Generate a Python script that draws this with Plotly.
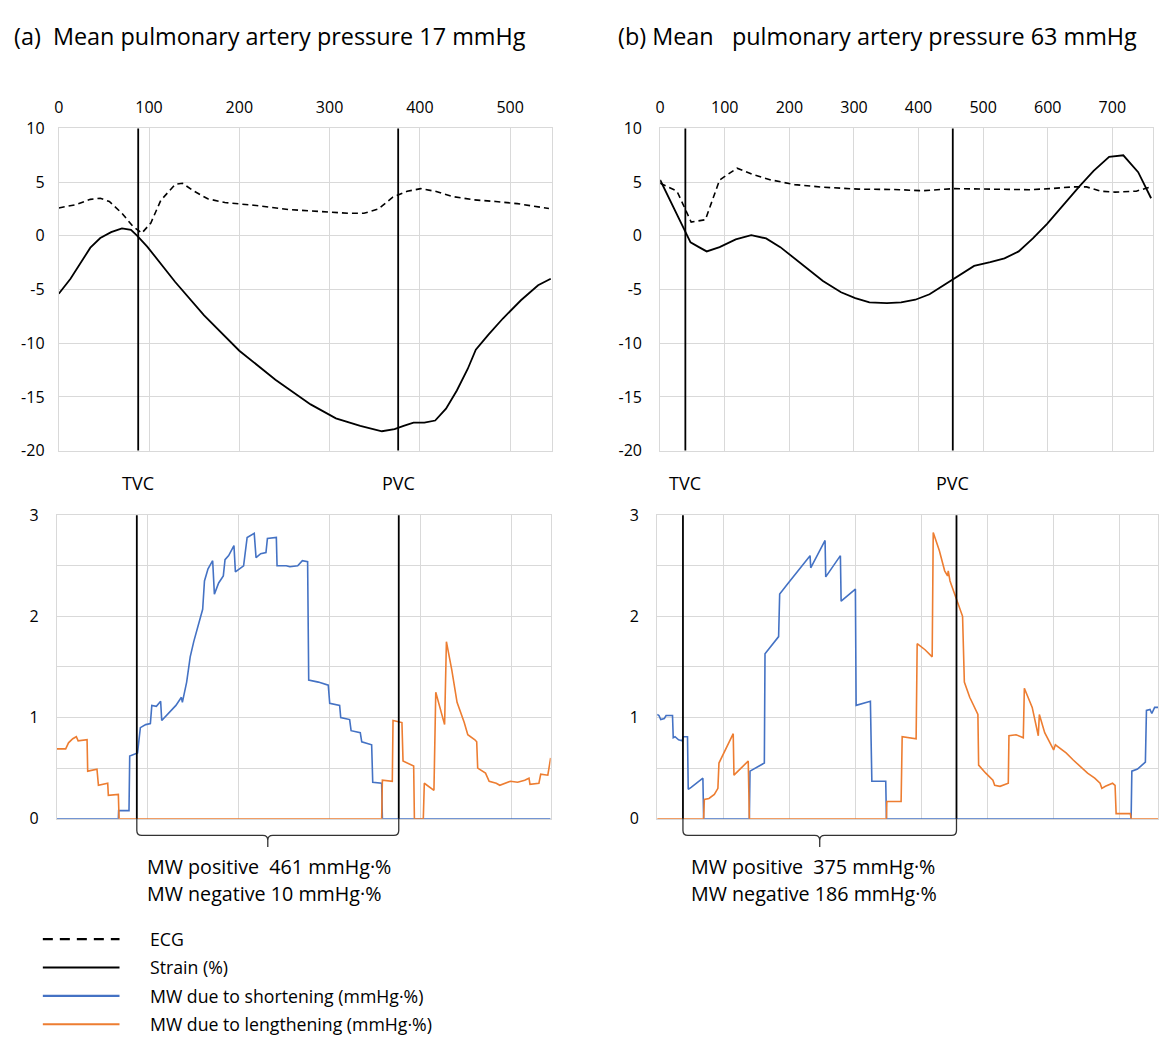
import plotly.graph_objects as go

# ---------------- data ----------------
# (a) mean PAP 17 mmHg
strain_a_x = [0, 13, 35, 46, 58, 70, 80, 87, 98, 113, 129, 161, 200, 240, 279, 307, 334, 358, 372, 382,
              393, 405, 417, 429, 441, 453, 462, 476, 492, 512, 531, 545]
strain_a_y = [-5.4, -4.0, -1.1, -0.2, 0.35, 0.7, 0.55, 0.0, -1.0, -2.6, -4.3, -7.4, -10.7, -13.4, -15.7, -17.0,
              -17.7, -18.2, -18.0, -17.7, -17.4, -17.4, -17.2, -16.1, -14.4, -12.4, -10.6, -9.2, -7.7, -6.0, -4.6, -4.0]
ecg_a_x = [0, 19, 35, 46, 56, 70, 82, 92, 102, 113, 129, 137, 149, 165, 184, 216, 255, 295, 322, 338,
           354, 370, 386, 401, 417, 437, 460, 484, 508, 543]
ecg_a_y = [2.6, 2.9, 3.4, 3.5, 3.2, 2.1, 0.9, 0.25, 1.2, 3.3, 4.8, 4.9, 4.2, 3.45, 3.1, 2.85, 2.45, 2.2, 2.1, 2.1,
           2.5, 3.6, 4.15, 4.4, 4.15, 3.65, 3.35, 3.2, 3.0, 2.55]
short_a_x = [0, 67.7, 68, 79.4, 80.2, 88.8, 91.9, 97.8, 102.9, 104.5, 109.5, 114.2, 115.4, 123.2, 131, 137, 138.1,
             142.8, 146.7, 150.6, 156.5, 160.4, 162.4, 166.3, 171.4, 173.3, 178, 183.1, 185, 189, 194.8, 196.4,
             205.4, 209.3, 217.1, 219.1, 224.2, 230, 231.6, 241.4, 242.2, 252.3, 256.3, 264.9, 270, 275.8, 277,
             287.6, 298.5, 300.1, 311, 312.2, 322, 323.6, 333.7, 335.3, 346.2, 347.4, 357.2, 358, 543]
short_a_y = [0, 0, 0.08, 0.08, 0.62, 0.65, 0.9, 0.93, 0.94, 1.12, 1.11, 1.16, 0.97, 1.05, 1.12, 1.2, 1.15,
             1.35, 1.6, 1.75, 1.95, 2.07, 2.35, 2.47, 2.55, 2.22, 2.33, 2.4, 2.56, 2.6, 2.7, 2.44,
             2.5, 2.78, 2.82, 2.58, 2.62, 2.63, 2.77, 2.78, 2.5, 2.5, 2.49, 2.5, 2.55, 2.54, 1.37,
             1.35, 1.32, 1.14, 1.12, 1.0, 0.98, 0.87, 0.85, 0.76, 0.73, 0.36, 0.35, 0, 0]
length_a_x = [0, 9.8, 12.9, 17.6, 21.5, 23.5, 33.3, 34, 44.2, 45.8, 56, 56.7, 67.7, 68.5, 357.2, 358, 368.9,
              369.7, 379.5, 380.7, 392.4, 393.2, 403, 404.1, 414.7, 416.7, 426.4, 428.4, 434.3, 440.1, 448,
              451.9, 459.7, 461.7, 462.8, 471.4, 475.4, 483.2, 487.1, 493, 498.8, 506.7, 514.5, 519.2, 520.3,
              530.1, 532.1, 539.9, 543]
length_a_y = [0.69, 0.69, 0.75, 0.79, 0.81, 0.77, 0.78, 0.47, 0.49, 0.33, 0.35, 0.23, 0.24, 0, 0, 0.38, 0.37,
              0.97, 0.95, 0.57, 0.52, 0, 0, 0.35, 0.28, 1.25, 0.93, 1.75, 1.47, 1.15, 0.95,
              0.83, 0.78, 0.76, 0.5, 0.45, 0.37, 0.35, 0.33, 0.35, 0.37, 0.36, 0.38, 0.4, 0.34,
              0.35, 0.44, 0.43, 0.6]
events_a = [88, 376]

# (b) mean PAP 63 mmHg
strain_b_x = [0, 13, 26, 38, 47, 60, 72, 92, 117, 141, 164, 186, 219, 252, 280, 302, 324, 351, 373, 395,
              417, 439, 454, 467, 486, 511, 533, 555, 577, 599, 627, 649, 671, 695, 717, 740, 760]
strain_b_y = [5.2, 3.6, 1.95, 0.5, -0.6, -1.05, -1.45, -1.05, -0.33, 0.06, -0.24, -1.05, -2.67, -4.2, -5.26,
              -5.8, -6.2, -6.26, -6.2, -5.95, -5.44, -4.6, -3.95, -3.5, -2.8, -2.45, -2.1, -1.45, -0.24, 1.12,
              3.1, 4.6, 6.05, 7.35, 7.5, 5.93, 3.5]
ecg_b_x = [0, 26, 40, 48, 70, 92, 119, 142, 170, 208, 252, 307, 362, 406, 454, 516, 572, 605, 638, 660,
           682, 704, 737, 762]
ecg_b_y = [4.9, 4.16, 2.34, 1.28, 1.5, 5.2, 6.3, 5.74, 5.23, 4.77, 4.53, 4.35, 4.32, 4.2, 4.4, 4.38, 4.3,
           4.4, 4.56, 4.56, 4.16, 4.07, 4.16, 4.6]
short_b_x = [0, 2.7, 5.4, 10.8, 13.5, 23.2, 24.3, 27, 32.4, 37.8, 39.5, 45.9, 47, 51.4, 69.2, 70.3, 139.5,
             140.5, 162.2, 163.2, 183.8, 185.4, 197.3, 210.8, 231.4, 232.4, 254.1, 255.1, 277.3, 278.4, 300,
             301.1, 322.7, 324.9, 345.9, 347, 717.3, 718.4, 727, 738.9, 740.5, 745.9, 748.6, 752.9, 758]
short_b_y = [1.03, 1.02, 0.98, 0.99, 1.02, 1.02, 0.8, 0.81, 0.78, 0.77, 0.81, 0.81, 0.29, 0.31, 0.4, 0, 0,
             0.47, 0.55, 1.63, 1.8, 2.22, 2.32, 2.43, 2.6, 2.48, 2.75, 2.39, 2.6, 2.15, 2.27,
             1.12, 1.16, 0.37, 0.37, 0, 0, 0.47, 0.49, 0.56, 1.07, 1.08, 1.04, 1.1, 1.1]
length_b_x = [0, 70.3, 71.4, 78.4, 86.5, 91.9, 93.5, 102.7, 110.8, 115.1, 116.2, 127, 137.8, 139.5, 347,
              347.6, 369.2, 370.8, 391.9, 393.5, 405.4, 416.2, 417.8, 427, 435.1, 439.5, 440.5, 443.2, 452.4,
              462.2, 464.9, 473, 485.4, 486.5, 497.3, 508.1, 510.8, 518.9, 531.4, 532.4, 543.2, 554.1, 555.7,
              567.6, 576.8, 578.4, 586.5, 600, 602.7, 613.5, 618.9, 629.7, 640.5, 651.4, 662.2, 670.3, 673,
              678.4, 689.2, 693, 694.6, 716.2, 717.3, 758]
length_b_y = [0, 0, 0.19, 0.2, 0.24, 0.3, 0.55, 0.67, 0.78, 0.84, 0.43, 0.5, 0.57, 0, 0,
              0.17, 0.17, 0.81, 0.79, 1.73, 1.67, 1.6, 2.83, 2.65, 2.45, 2.4, 2.45, 2.35, 2.18,
              2.0, 1.35, 1.2, 1.03, 0.53, 0.45, 0.38, 0.33, 0.32, 0.35, 0.82, 0.83, 0.8, 1.29,
              1.1, 0.82, 1.03, 0.85, 0.68, 0.73, 0.68, 0.65, 0.58, 0.52, 0.45, 0.4, 0.35, 0.3,
              0.32, 0.35, 0.33, 0.05, 0.05, 0, 0]
events_b = [39, 453]

event_labels = ["TVC", "PVC"]
titles = ["(a)\u00a0\u00a0Mean pulmonary artery pressure 17 mmHg",
          "(b) Mean\u00a0\u00a0\u00a0pulmonary artery pressure 63 mmHg"]
mw_text_a = ["MW positive\u00a0\u00a0461 mmHg\u00b7%", "MW negative 10 mmHg\u00b7%"]
mw_text_b = ["MW positive\u00a0\u00a0375 mmHg\u00b7%", "MW negative 186 mmHg\u00b7%"]
legend_names = ["ECG", "Strain (%)", "MW due to shortening (mmHg\u00b7%)", "MW due to lengthening (mmHg\u00b7%)"]

# ---------------- styling ----------------
W, H = 1161, 1048
FONT = "Open Sans"
BLUE = "#4472C4"
ORANGE = "#ED7D31"
GRID = "#d9d9d9"
TICK_SIZE = 16


def X(px):
    return px / W


def Y(py):
    return 1 - py / H


fig = go.Figure()

# panel geometry (pixels)
panels = {
    "1": dict(x=(54, 549), y=(120, 449), xr=(0, 546)),
    "2": dict(x=(658, 1153), y=(120, 449), xr=(0, 763)),
    "3": dict(x=(52, 548), y=(515, 825), xr=(0, 543)),
    "4": dict(x=(655, 1158), y=(515, 825), xr=(0, 758)),
}


def add(x, y, axis, color, dash=None, width=1.8):
    xa = "x" if axis == "1" else "x" + axis
    ya = "y" if axis == "1" else "y" + axis
    fig.add_trace(go.Scatter(x=x, y=y, mode="lines", xaxis=xa, yaxis=ya, showlegend=False,
                             line=dict(color=color, width=width, dash=dash), hoverinfo="skip"))


add(ecg_a_x, ecg_a_y, "1", "black", dash="6px,4px", width=1.6)
add(strain_a_x, strain_a_y, "1", "black")
add(ecg_b_x, ecg_b_y, "2", "black", dash="6px,4px", width=1.6)
add(strain_b_x, strain_b_y, "2", "black")
add(short_a_x, short_a_y, "3", BLUE, width=1.6)
add(length_a_x, length_a_y, "3", ORANGE, width=1.6)
add(short_b_x, short_b_y, "4", BLUE, width=1.6)
add(length_b_x, length_b_y, "4", ORANGE, width=1.6)

layout = dict(
    width=W, height=H, margin=dict(l=0, r=0, t=0, b=0),
    paper_bgcolor="white", plot_bgcolor="white",
    font=dict(family=FONT, color="black", size=TICK_SIZE),
    showlegend=False,
)

for k, p in panels.items():
    xname = "xaxis" if k == "1" else "xaxis" + k
    yname = "yaxis" if k == "1" else "yaxis" + k
    anchor_y = "y" if k == "1" else "y" + k
    anchor_x = "x" if k == "1" else "x" + k
    top = k in ("1", "2")
    layout[xname] = dict(
        domain=[X(p["x"][0]), X(p["x"][1])], range=list(p["xr"]), anchor=anchor_y,
        side="top" if top else "bottom", tickmode="linear", tick0=0, dtick=100,
        showticklabels=top, gridcolor=GRID, gridwidth=1, zeroline=False,
        showline=True, linecolor=GRID, linewidth=1, mirror=True,
        ticks="outside" if top else "", ticklen=8, tickcolor="rgba(0,0,0,0)",
        tickfont=dict(size=TICK_SIZE, family=FONT), fixedrange=True,
    )
    if top:
        ydict = dict(range=[-20, 10], tickvals=[10, 5, 0, -5, -10, -15, -20],
                     ticktext=["10", "5", "0", "-5", "-10", "-15", "-20"])
    else:
        ydict = dict(range=[0, 3], tickvals=[0, 0.5, 1, 1.5, 2, 2.5, 3],
                     ticktext=["0", "", "1", "", "2", "", "3"])
    layout[yname] = dict(
        domain=[Y(p["y"][1]), Y(p["y"][0])], anchor=anchor_x,
        gridcolor=GRID, gridwidth=1, zeroline=False,
        showline=True, linecolor=GRID, linewidth=1, mirror=True,
        ticks="outside", ticklen=10 if k == "1" else 14, tickcolor="rgba(0,0,0,0)",
        tickfont=dict(size=TICK_SIZE, family=FONT), fixedrange=True, **ydict,
    )

fig.update_layout(**layout)

shapes = []
annotations = []

for events, xt, xb in ((events_a, "x", "x3"), (events_b, "x2", "x4")):
    ytop = "y domain" if xt == "x" else "y2 domain"
    ybot = "y3 domain" if xb == "x3" else "y4 domain"
    for ev, lab in zip(events, event_labels):
        shapes.append(dict(type="line", xref=xt, yref=ytop, x0=ev, x1=ev, y0=0, y1=1,
                           line=dict(color="black", width=1.8), layer="above"))
        shapes.append(dict(type="line", xref=xb, yref=ybot, x0=ev, x1=ev, y0=0, y1=1,
                           line=dict(color="black", width=1.8), layer="above"))
        annotations.append(dict(text=lab, xref=xt, yref="paper", x=ev, y=Y(482), showarrow=False,
                                xanchor="center", yanchor="middle", font=dict(size=18, family=FONT)))

    # curly brace below bottom panel between TVC and PVC
    t, pv = events
    mid = (t + pv) / 2
    pk = "3" if xb == "x3" else "4"
    pxu = (panels[pk]["x"][1] - panels[pk]["x"][0]) / panels[pk]["xr"][1]
    dx = 5 / pxu
    y0, yc, yh, ym, ytip = Y(825), Y(837), Y(842), Y(847), Y(854)
    path = (f"M {t},{y0} L {t},{yc} Q {t},{yh} {t + dx},{yh} L {mid - dx},{yh} Q {mid},{yh} {mid},{ym} "
            f"L {mid},{ytip} M {mid},{ym} Q {mid},{yh} {mid + dx},{yh} L {pv - dx},{yh} "
            f"Q {pv},{yh} {pv},{yc} L {pv},{y0}")
    shapes.append(dict(type="path", xref=xb, yref="paper", path=path,
                       line=dict(color="#333333", width=1.3)))

# titles
annotations.append(dict(text=titles[0], xref="paper", yref="paper", x=X(7), y=Y(26), showarrow=False,
                        xanchor="left", yanchor="middle", font=dict(size=23.4, family=FONT)))
annotations.append(dict(text=titles[1], xref="paper", yref="paper", x=X(614), y=Y(26), showarrow=False,
                        xanchor="left", yanchor="middle", font=dict(size=23.4, family=FONT)))

# MW summary text
for lines, xp in ((mw_text_a, 141), (mw_text_b, 687)):
    for i, line in enumerate(lines):
        annotations.append(dict(text=line, xref="paper", yref="paper", x=X(xp), y=Y(874 + 27 * i),
                                showarrow=False, xanchor="left", yanchor="middle",
                                font=dict(size=19.7, family=FONT)))

# legend (drawn)
leg_styles = [("black", "dash"), ("black", "solid"), (BLUE, "solid"), (ORANGE, "solid")]
for i, (name, (col, dsh)) in enumerate(zip(legend_names, leg_styles)):
    yy = 948 + 29 * i
    shapes.append(dict(type="line", xref="paper", yref="paper", x0=X(38), x1=X(115), y0=Y(yy), y1=Y(yy),
                       line=dict(color=col, width=2.2, dash="10px,7px" if dsh == "dash" else "solid")))
    annotations.append(dict(text=name, xref="paper", yref="paper", x=X(144), y=Y(yy), showarrow=False,
                            xanchor="left", yanchor="middle", font=dict(size=17.7, family=FONT)))

fig.update_layout(shapes=shapes, annotations=annotations)
fig.write_html("out.html")
